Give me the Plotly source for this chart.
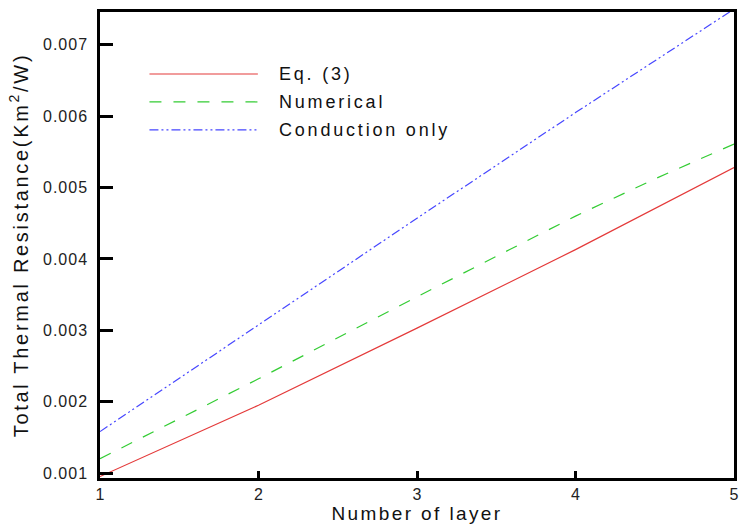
import plotly.graph_objects as go

layers = [1, 2, 3, 4, 5]
eq3 = [0.00095, 0.00195, 0.00303, 0.00413, 0.00528]
numerical_x = [1, 2, 3, 4, 4.5, 5]
numerical = [0.00120, 0.00232, 0.00347, 0.00460, 0.00512, 0.00561]
conduction = [0.00158, 0.00308, 0.00457, 0.00605, 0.00750]

series_names = ["Eq. (3)", "Numerical", "Conduction only"]
x_ticks = [1, 2, 3, 4, 5]
y_ticks = [0.001, 0.002, 0.003, 0.004, 0.005, 0.006, 0.007]
y_ticklabels = ["0.001", "0.002", "0.003", "0.004", "0.005", "0.006", "0.007"]

colors = ["#e43a3a", "#33cc33", "#4646ff"]
dashes = ["solid", "12px,12px", "9px,3px,2px,3px,2px,3px"]
FONT = "Liberation Sans, Arial"


def spaced(t, px):
    return '<span style="letter-spacing:%spx">%s</span>' % (px, t)


fig = go.Figure()
fig.add_trace(go.Scatter(x=layers, y=eq3, mode="lines", name=series_names[0],
                         line=dict(color=colors[0], width=1.2, dash=dashes[0])))
fig.add_trace(go.Scatter(x=numerical_x, y=numerical, mode="lines", name=series_names[1],
                         line=dict(color=colors[1], width=1.2, dash=dashes[1])))
fig.add_trace(go.Scatter(x=layers, y=conduction, mode="lines", name=series_names[2],
                         line=dict(color=colors[2], width=1.2, dash=dashes[2])))

# manual legend (long line samples like the original)
leg_y = [0.867, 0.807, 0.747]
for i in range(3):
    fig.add_shape(type="line", xref="paper", yref="paper",
                  x0=0.078, x1=0.249, y0=leg_y[i], y1=leg_y[i],
                  line=dict(color=colors[i], width=1.2, dash=dashes[i]))
    fig.add_annotation(xref="paper", yref="paper", x=0.2786, y=leg_y[i],
                       text=spaced(series_names[i], 2.8), showarrow=False,
                       xanchor="left", yanchor="middle",
                       font=dict(family=FONT, size=18, color="#111"))

axis_font = dict(family=FONT, size=16, color="#222")
fig.update_layout(
    width=744, height=530,
    margin=dict(l=100, r=5, t=12, b=52),
    plot_bgcolor="white", paper_bgcolor="white",
    showlegend=False,
    xaxis=dict(range=[1, 5], tickvals=x_ticks, ticks="inside", ticklen=7,
               tickwidth=2.5, tickcolor="black", showline=True, linecolor="black",
               linewidth=2.5, mirror=True, showgrid=False, zeroline=False,
               tickfont=axis_font,
               title=dict(text=spaced("Number of layer", 2.4), standoff=2,
                          font=dict(family=FONT, size=19, color="#111"))),
    yaxis=dict(range=[0.00093, 0.00746], tickvals=y_ticks,
               ticktext=[spaced(t, 1) for t in y_ticklabels],
               ticks="inside", ticklen=13, tickwidth=2.5, tickcolor="black",
               ticklabelstandoff=6,
               showline=True, linecolor="black", linewidth=2.5, mirror=True,
               showgrid=False, zeroline=False, tickfont=axis_font,
               title=dict(text=spaced("Total Thermal Resistance(Km<sup>2</sup>/W)", 2.7),
                          standoff=10,
                          font=dict(family=FONT, size=20, color="#111"))),
)

fig.write_html("out.html")
